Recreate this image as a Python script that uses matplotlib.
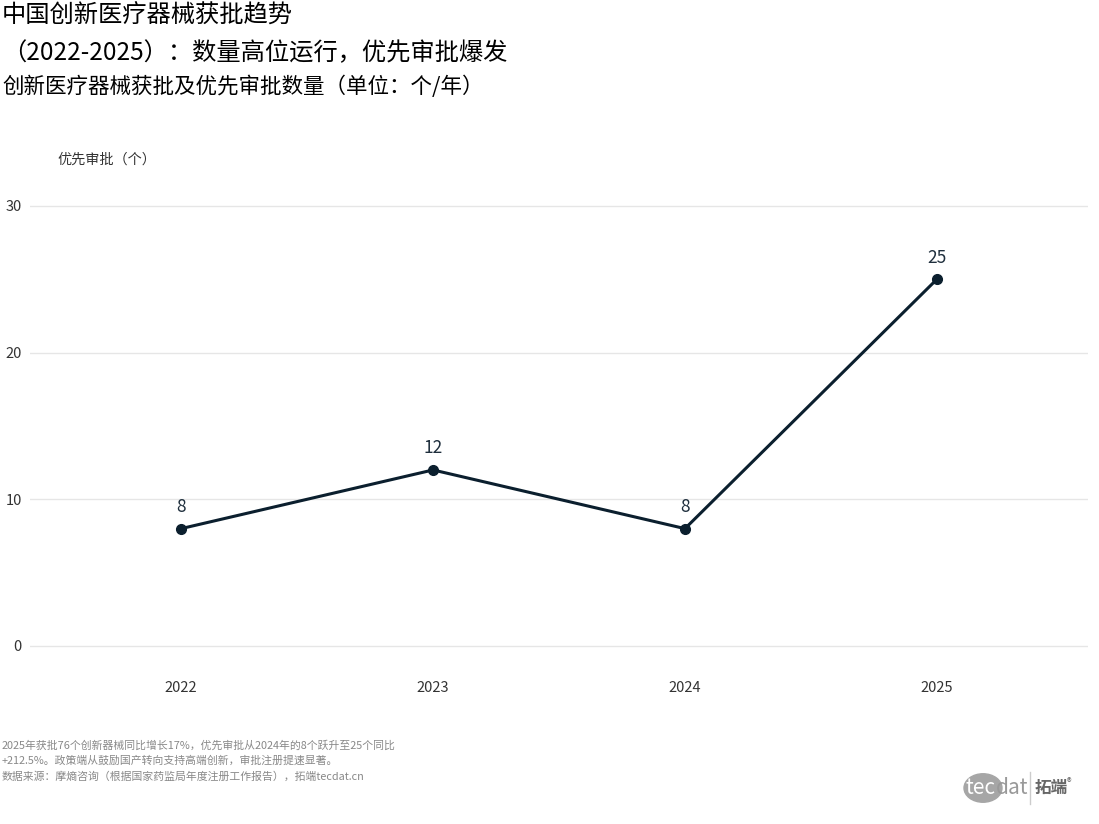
import matplotlib.pyplot as plt
from matplotlib.patches import Circle

plt.rcParams['font.family'] = ['Noto Sans CJK SC', 'DejaVu Sans']

years = ['2022', '2023', '2024', '2025']
priority = [8, 12, 8, 25]
yticks = [0, 10, 20, 30]

title = '中国创新医疗器械获批趋势\n（2022-2025）：数量高位运行，优先审批爆发'
subtitle = '创新医疗器械获批及优先审批数量（单位：个/年）'
ylab = '优先审批（个）'
notes = ('2025年获批76个创新器械同比增长17%，优先审批从2024年的8个跃升至25个同比\n'
         '+212.5%。政策端从鼓励国产转向支持高端创新，审批注册提速显著。\n'
         '数据来源：摩熵咨询（根据国家药监局年度注册工作报告），拓端tecdat.cn')

W, H = 1099, 824
fig = plt.figure(figsize=(W / 100, H / 100), dpi=100)
ax = fig.add_axes([30 / W, 1 - 670 / H, (1088 - 30) / W, (670 - 180) / H])

x = list(range(len(years)))
ax.plot(x, priority, color='#0b1f2e', lw=2.2, marker='o', ms=7, zorder=3)
for xi, v in zip(x, priority):
    ax.annotate(str(v), (xi, v), xytext=(0, 9), textcoords='offset points',
                ha='center', va='bottom', fontsize=12.5, color='#1f2f3d')

ax.set_xlim(-0.6, 3.6)
ax.set_ylim(-1.64, 31.77)
ax.set_xticks(x)
ax.set_xticklabels(years)
ax.set_yticks(yticks)
ax.grid(axis='y', color='#e6e6e6', lw=1)
ax.set_axisbelow(True)
for s in ax.spines.values():
    s.set_visible(False)
ax.tick_params(length=0, labelsize=10.5, colors='#333333')
ax.tick_params(axis='x', pad=8)
ax.tick_params(axis='y', pad=6)

fig.text(57 / W, 1 - 160 / H, ylab, fontsize=10.2, color='#333333', va='center')

fig.text(2 / W, 1 - 3 / H, title, fontsize=17.5, va='top', linespacing=1.55)
fig.text(2 / W, 1 - 76 / H, subtitle, fontsize=15.5, va='top')
fig.text(2 / W, 1 - 740 / H, notes, fontsize=7.8, color='#888888', va='top',
         linespacing=1.6)

# logo
logo_y = 1 - 788 / H
fig.patches.append(Circle((983 / W, logo_y), 19 / W, transform=fig.transFigure,
                          color='#a6a6a6', zorder=1))
fig.text(966 / W, logo_y, 'tec', fontsize=15, color='white', va='center', zorder=2)
fig.text(996 / W, logo_y, 'dat', fontsize=15, color='#999999', va='center', zorder=2)
fig.lines.append(plt.Line2D([1030 / W, 1030 / W], [1 - 772 / H, 1 - 804 / H],
                            transform=fig.transFigure, color='#cccccc', lw=1))
fig.text(1035 / W, logo_y, '拓端', fontsize=12, color='#666666', va='center',
         weight='bold')
fig.text(1067 / W, logo_y + 0.006, '®', fontsize=7, color='#666666', va='center')

fig.savefig('out.png', dpi=100)
